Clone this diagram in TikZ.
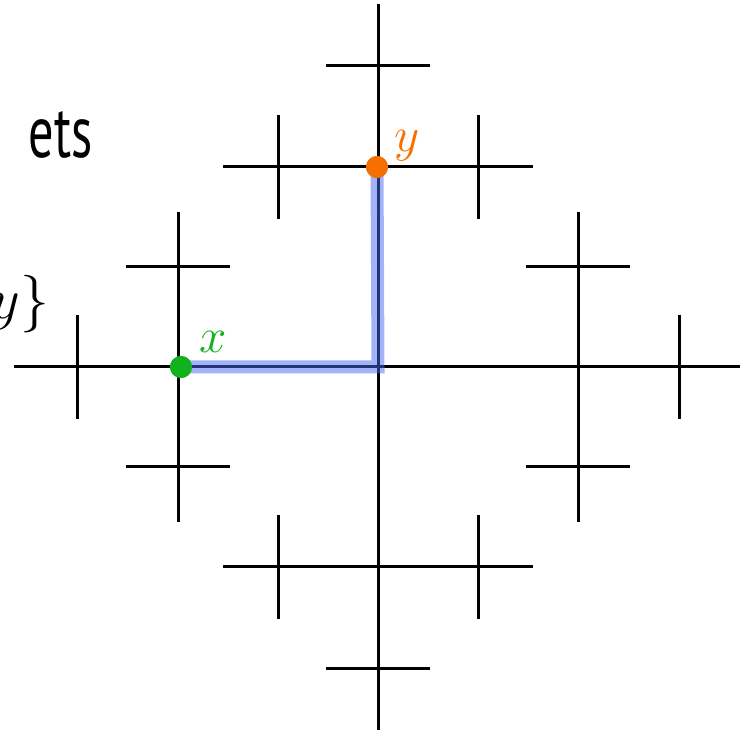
\documentclass[tikz,border=0pt]{standalone}
\usepackage{fontspec}
\setsansfont{PT Sans}
\usepackage{tikz}
\usetikzlibrary{
  positioning,
  calc
}
\definecolor{treeblack}{RGB}{0,0,0}
\definecolor{pathblue}{RGB}{70,105,240}
\definecolor{startgreen}{RGB}{18,178,30}
\definecolor{endorange}{RGB}{245,112,0}
\begin{document}
\begin{tikzpicture}[x=0.5pt, y=-0.5pt,
  edge/.style={draw=treeblack, line width=1.5pt},
  geodesic/.style={draw=pathblue, line width=6.5pt, draw opacity=0.5, line join=miter},
  vertex/.style={circle, inner sep=0pt, minimum size=11pt},
  vlabel/.style={font=\Large, scale=1.7, inner sep=0pt}]
  \useasboundingbox (0,0) rectangle (744,731);

  % text cut off at the left edge
  \node[anchor=base east, font=\sffamily\fontsize{37}{42}\selectfont, xscale=0.68, inner sep=0pt] (sets) at (93,158) {ets};
  \node[anchor=base east, font=\Large, scale=2.0, inner sep=0pt] (setend) at (50,319) {$y\}$};

  \coordinate (e) at (378,367);
  % main axes
  \draw[edge] ($(e)+(-364,0)$) -- ($(e)+(362,0)$);
  \draw[edge] ($(e)+(0,-363)$) -- ($(e)+(0,363)$);
  % branches, the same in each direction
  \foreach \a in {0,90,180,270}{
    \begin{scope}[shift={(e)}, rotate=\a]
      \draw[edge] (200,-155) -- (200,155);
      \draw[edge] (301,-52) -- (301,52);
      \draw[edge] (148,-100) -- (252,-100);
      \draw[edge] (148,100) -- (252,100);
    \end{scope}
  }

  \node[vertex, fill=startgreen] (x) at (181,367) {};
  \node[vertex, fill=endorange] (y) at (377,167) {};
  \draw[geodesic] (x.center) -- (e) -- (y.center);
  \fill[startgreen] (x) circle (5.5pt);
  \fill[endorange] (y) circle (5.5pt);

  \node[vlabel, text=startgreen] (xlabel) at ($(x)+(32,-25)$) {$x$};
  \node[vlabel, text=endorange] (ylabel) at ($(y)+(30,-21)$) {$y$};
\end{tikzpicture}
\end{document}
